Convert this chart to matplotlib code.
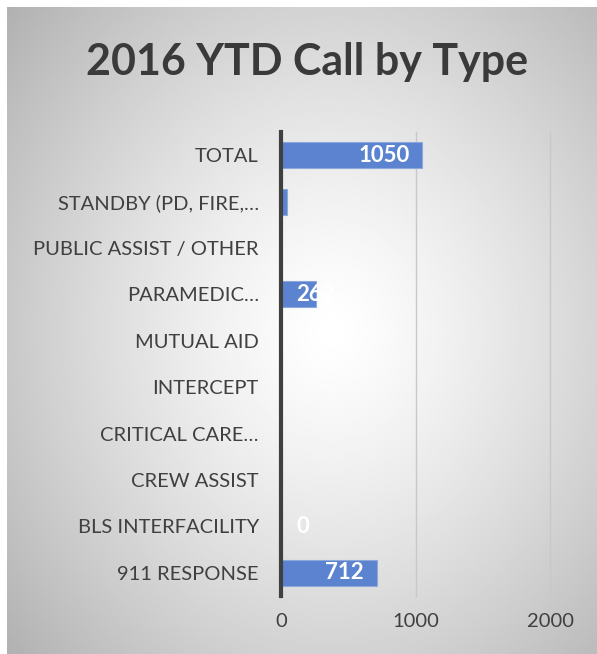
import numpy as np
import matplotlib.pyplot as plt

# chart data (bottom to top, as drawn)
categories = ['911 RESPONSE', 'BLS INTERFACILITY', 'CREW ASSIST', 'CRITICAL CARE\u2026',
              'INTERCEPT', 'MUTUAL AID', 'PARAMEDIC\u2026', 'PUBLIC ASSIST / OTHER',
              'STANDBY (PD, FIRE,\u2026', 'TOTAL']
values = [712, 0, None, None, None, None, 262, None, 45, 1050]
xticks = [0, 1000, 2000]
title = '2016 YTD Call by Type'

plt.rcParams['font.family'] = ['Lato', 'DejaVu Sans']

W, H = 597, 654
fig = plt.figure(figsize=(W / 100, H / 100), dpi=100)
fig.patch.set_facecolor('white')

# radial gradient background
bg = fig.add_axes([7 / W, 0, 1 - 7 / W, 1 - 7 / H])
yy, xx = np.mgrid[0:1:300j, 0:1:300j]
r = np.sqrt(((xx - 0.55) / 0.75) ** 2 + ((yy - 0.5) / 0.8) ** 2)
shade = 1.0 - 0.32 * np.clip(r, 0, 1) ** 1.3
bg.imshow(shade, cmap='gray', vmin=0, vmax=1, aspect='auto', extent=[0, 1, 0, 1])
bg.axis('off')

ax = fig.add_axes([281 / W, 1 - 596 / H, (550 - 281) / W, (596 - 132) / H])
ax.patch.set_alpha(0)

ypos = np.arange(len(categories))
widths = [v if v is not None else 0 for v in values]
bars = ax.barh(ypos, widths, height=0.56, color='#5b83cf', edgecolor='#8ea8dc',
               linewidth=0.8, zorder=3)

ax.set_xlim(0, 2000)
ax.set_ylim(-0.5, len(categories) - 0.5)
ax.set_xticks(xticks)
ax.set_xticklabels([str(t) for t in xticks])
ax.set_yticks(ypos)
ax.set_yticklabels(categories)
ax.tick_params(axis='both', length=0, labelsize=14.5, colors='#404040')
ax.tick_params(axis='y', pad=16)
ax.tick_params(axis='x', pad=12)
ax.grid(axis='x', color='#c8c8c8', linewidth=1, zorder=0)
for gl in ax.get_xgridlines():
    gl.set_clip_on(False)
for s in ['top', 'right', 'bottom']:
    ax.spines[s].set_visible(False)
ax.spines['left'].set_color('#404040')
ax.spines['left'].set_linewidth(3)
ax.spines['left'].set_zorder(4)

# data labels at inside end, clipped to the bar
for bar, v in zip(bars, values):
    if v is None:
        continue
    yc = bar.get_y() + bar.get_height() / 2
    if v > 400:
        ax.text(v - 95, yc, str(v), ha='right', va='center', color='white',
                fontsize=16, fontweight='bold', zorder=5)
    elif v == 0 or v > 112:
        t = ax.text(112, yc, str(v), ha='left', va='center', color='white',
                    fontsize=16, fontweight='bold', zorder=5)
        if v > 0:
            t.set_clip_path(bar)

fig.text(307 / W, 1 - 62 / H, title, ha='center', va='center', fontsize=31,
         fontweight='bold', color='#3a3a3a')

fig.savefig('out.png', dpi=100)
